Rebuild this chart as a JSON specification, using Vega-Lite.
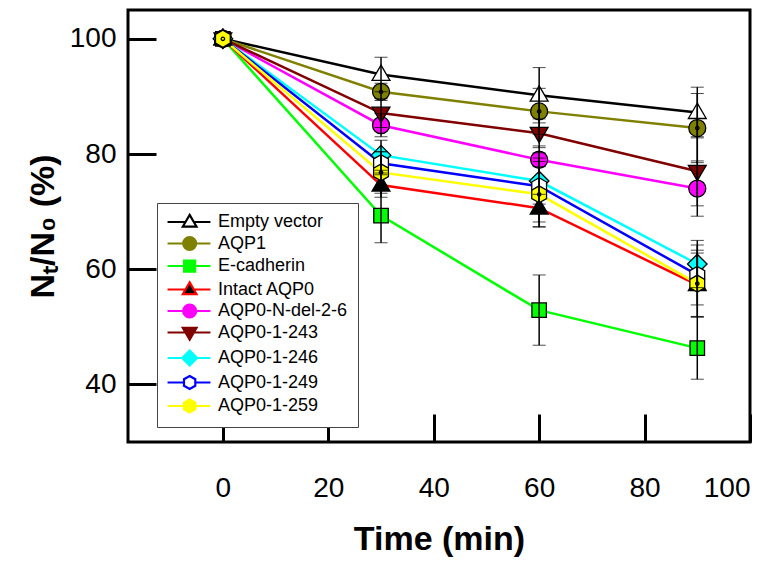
{
  "$schema": "https://vega.github.io/schema/vega-lite/v6.json",
  "autosize": "none",
  "width": 622,
  "height": 432,
  "padding": {"left": 128, "top": 10, "right": 28, "bottom": 120},
  "background": "white",
  "config": {
    "view": {"stroke": "black", "strokeWidth": 3},
    "axis": {
      "domain": false,
      "grid": false,
      "ticks": true,
      "tickColor": "black",
      "tickWidth": 3,
      "tickSize": -28,
      "labelFont": "Liberation Sans",
      "labelFontSize": 28,
      "labelColor": "black",
      "titleFont": "Liberation Sans",
      "titleFontSize": 34,
      "titleFontWeight": "bold",
      "titleColor": "black"
    },
    "legend": {
      "labelFont": "Liberation Sans",
      "labelFontSize": 18,
      "labelColor": "black"
    }
  },
  "data": {
    "values": [
      {"series": "Empty vector", "time": 0, "value": 100, "err": 0},
      {"series": "Empty vector", "time": 30, "value": 93.8, "err": 3.0},
      {"series": "Empty vector", "time": 60, "value": 90.2, "err": 4.8},
      {"series": "Empty vector", "time": 90, "value": 87.2, "err": 4.4},
      {"series": "AQP1", "time": 0, "value": 100, "err": 0},
      {"series": "AQP1", "time": 30, "value": 90.8, "err": 1.5},
      {"series": "AQP1", "time": 60, "value": 87.4, "err": 4.0},
      {"series": "AQP1", "time": 90, "value": 84.5, "err": 6.0},
      {"series": "E-cadherin", "time": 0, "value": 100, "err": 0},
      {"series": "E-cadherin", "time": 30, "value": 69.3, "err": 4.7},
      {"series": "E-cadherin", "time": 60, "value": 52.9, "err": 6.1},
      {"series": "E-cadherin", "time": 90, "value": 46.3, "err": 5.4},
      {"series": "Intact AQP0", "time": 0, "value": 100, "err": 0},
      {"series": "Intact AQP0", "time": 30, "value": 74.6, "err": 2.1},
      {"series": "Intact AQP0", "time": 60, "value": 70.6, "err": 2.4},
      {"series": "Intact AQP0", "time": 90, "value": 57.3, "err": 5.5},
      {"series": "AQP0-N-del-2-6", "time": 0, "value": 100, "err": 0},
      {"series": "AQP0-N-del-2-6", "time": 30, "value": 85.0, "err": 2.0},
      {"series": "AQP0-N-del-2-6", "time": 60, "value": 79.0, "err": 1.2},
      {"series": "AQP0-N-del-2-6", "time": 90, "value": 74.0, "err": 4.8},
      {"series": "AQP0-1-243", "time": 0, "value": 100, "err": 0},
      {"series": "AQP0-1-243", "time": 30, "value": 87.1, "err": 2.5},
      {"series": "AQP0-1-243", "time": 60, "value": 83.6, "err": 2.5},
      {"series": "AQP0-1-243", "time": 90, "value": 77.0, "err": 6.0},
      {"series": "AQP0-1-246", "time": 0, "value": 100, "err": 0},
      {"series": "AQP0-1-246", "time": 30, "value": 79.8, "err": 2.6},
      {"series": "AQP0-1-246", "time": 60, "value": 75.3, "err": 4.0},
      {"series": "AQP0-1-246", "time": 90, "value": 60.9, "err": 4.1},
      {"series": "AQP0-1-249", "time": 0, "value": 100, "err": 0},
      {"series": "AQP0-1-249", "time": 30, "value": 78.4, "err": 2.0},
      {"series": "AQP0-1-249", "time": 60, "value": 74.4, "err": 7.0},
      {"series": "AQP0-1-249", "time": 90, "value": 59.0, "err": 5.2},
      {"series": "AQP0-1-259", "time": 0, "value": 100, "err": 0},
      {"series": "AQP0-1-259", "time": 30, "value": 76.8, "err": 3.6},
      {"series": "AQP0-1-259", "time": 60, "value": 73.0, "err": 5.7},
      {"series": "AQP0-1-259", "time": 90, "value": 57.5, "err": 5.8}
    ]
  },
  "encoding": {
    "x": {
      "field": "time", "type": "quantitative",
      "scale": {"domain": [-18, 100], "nice": false, "zero": false},
      "axis": {"values": [0, 20, 40, 60, 80, 100], "title": "Time (min)", "labelPadding": 60, "titlePadding": 20}
    },
    "y": {
      "field": "value", "type": "quantitative",
      "scale": {"domain": [30, 105], "nice": false, "zero": false},
      "axis": {"values": [40, 60, 80, 100], "title": "Nₜ/N₀ (%)", "labelPadding": 40, "titlePadding": 9}
    }
  },
  "layer": [
    {
      "mark": {"type": "line", "strokeWidth": 2.5},
      "encoding": {
        "stroke": {
          "field": "series", "type": "nominal", "legend": null,
          "scale": {
            "domain": ["Empty vector", "AQP1", "E-cadherin", "Intact AQP0", "AQP0-N-del-2-6", "AQP0-1-243", "AQP0-1-246", "AQP0-1-249", "AQP0-1-259"],
            "range": ["#000000", "#808000", "#00FF00", "#FF0000", "#FF00FF", "#800000", "#00FFFF", "#0000FF", "#FFFF00"]
          }
        },
        "detail": {"field": "series"}
      }
    },
    {
      "mark": {"type": "point", "filled": true, "stroke": "black", "strokeWidth": 1.3, "opacity": 1, "size": 289},
      "encoding": {
        "fill": {
          "field": "series", "type": "nominal", "legend": null,
          "scale": {
            "domain": ["Empty vector", "AQP1", "E-cadherin", "Intact AQP0", "AQP0-N-del-2-6", "AQP0-1-243", "AQP0-1-246", "AQP0-1-249", "AQP0-1-259"],
            "range": ["#FFFFFF", "#808000", "#00FF00", "#000000", "#FF00FF", "#800000", "#00FFFF", "#FFFFFF", "#FFFF00"]
          }
        },
        "shape": {
          "field": "series", "type": "nominal", "legend": null,
          "scale": {
            "domain": ["Empty vector", "AQP1", "E-cadherin", "Intact AQP0", "AQP0-N-del-2-6", "AQP0-1-243", "AQP0-1-246", "AQP0-1-249", "AQP0-1-259"],
            "range": [
              "M0,-1.1L1.05,0.7L-1.05,0.7Z",
              "M1,0A1,1 0 1,1 -1,0A1,1 0 1,1 1,0Z M0.2,0A0.2,0.2 0 1,1 -0.2,0A0.2,0.2 0 1,1 0.2,0Z",
              "M-0.85,-0.85H0.85V0.85H-0.85Z",
              "M0,-1.1L1.05,0.7L-1.05,0.7Z",
              "M1,0A1,1 0 1,1 -1,0A1,1 0 1,1 1,0Z",
              "M0,1.1L1.05,-0.7L-1.05,-0.7Z",
              "M0,-1.15L1.15,0L0,1.15L-1.15,0Z",
              "M0,-1L0.87,-0.5L0.87,0.5L0,1L-0.87,0.5L-0.87,-0.5Z",
              "M0,-1L0.87,-0.5L0.87,0.5L0,1L-0.87,0.5L-0.87,-0.5Z M0.2,0A0.2,0.2 0 1,1 -0.2,0A0.2,0.2 0 1,1 0.2,0Z"
            ]
          }
        }
      }
    },
    {
      "transform": [{"filter": "datum.time < 0"}],
      "mark": {"type": "point", "opacity": 1, "strokeWidth": 2.5},
      "encoding": {
        "stroke": {
          "field": "series", "type": "nominal",
          "scale": {
            "domain": ["Empty vector", "AQP1", "E-cadherin", "Intact AQP0", "AQP0-N-del-2-6", "AQP0-1-243", "AQP0-1-246", "AQP0-1-249", "AQP0-1-259"],
            "range": ["#000000", "#808000", "#00FF00", "#FF0000", "#FF00FF", "#800000", "#00FFFF", "#0000FF", "#FFFF00"]
          },
          "legend": {"title": null, "orient": "none", "legendX": 29, "legendY": 193, "padding": 10, "strokeColor": "#444444", "fillColor": "white", "symbolSize": 169, "symbolStrokeWidth": 2.2, "labelOffset": 33, "rowPadding": 1.5, "symbolOpacity": 1}
        },
        "fill": {
          "field": "series", "type": "nominal",
          "scale": {
            "domain": ["Empty vector", "AQP1", "E-cadherin", "Intact AQP0", "AQP0-N-del-2-6", "AQP0-1-243", "AQP0-1-246", "AQP0-1-249", "AQP0-1-259"],
            "range": ["#FFFFFF", "#808000", "#00FF00", "#000000", "#FF00FF", "#800000", "#00FFFF", "#FFFFFF", "#FFFF00"]
          },
          "legend": {"title": null, "orient": "none", "legendX": 29, "legendY": 193, "padding": 10, "strokeColor": "#444444", "fillColor": "white", "symbolSize": 169, "symbolStrokeWidth": 2.2, "labelOffset": 33, "rowPadding": 1.5, "symbolOpacity": 1}
        },
        "shape": {
          "field": "series", "type": "nominal",
          "scale": {
            "domain": ["Empty vector", "AQP1", "E-cadherin", "Intact AQP0", "AQP0-N-del-2-6", "AQP0-1-243", "AQP0-1-246", "AQP0-1-249", "AQP0-1-259"],
            "range": [
              "M-1.3,0H1.46M2.74,0H5.3 M2.1,-1.1L3.15,0.7L1.05,0.7Z",
              "M-1.3,0H1.1M3.1,0H5.3 M3.1,0A1,1 0 1,1 1.1,0A1,1 0 1,1 3.1,0Z M2.3,0A0.2,0.2 0 1,1 1.9,0A0.2,0.2 0 1,1 2.3,0Z",
              "M-1.3,0H1.25M2.95,0H5.3 M1.25,-0.85H2.95V0.85H1.25Z",
              "M-1.3,0H1.46M2.74,0H5.3 M2.1,-1.1L3.15,0.7L1.05,0.7Z",
              "M-1.3,0H1.1M3.1,0H5.3 M3.1,0A1,1 0 1,1 1.1,0A1,1 0 1,1 3.1,0Z",
              "M-1.3,0H1.46M2.74,0H5.3 M2.1,1.1L3.15,-0.7L1.05,-0.7Z",
              "M-1.3,0H0.95M3.25,0H5.3 M2.1,-1.15L3.25,0L2.1,1.15L0.95,0Z",
              "M-1.3,0H1.23M2.97,0H5.3 M2.1,-1L2.97,-0.5L2.97,0.5L2.1,1L1.23,0.5L1.23,-0.5Z",
              "M-1.3,0H1.23M2.97,0H5.3 M2.1,-1L2.97,-0.5L2.97,0.5L2.1,1L1.23,0.5L1.23,-0.5Z M2.3,0A0.2,0.2 0 1,1 1.9,0A0.2,0.2 0 1,1 2.3,0Z"
            ]
          },
          "legend": {"title": null, "orient": "none", "legendX": 29, "legendY": 193, "padding": 10, "strokeColor": "#444444", "fillColor": "white", "symbolSize": 169, "symbolStrokeWidth": 2.2, "labelOffset": 33, "rowPadding": 1.5, "symbolOpacity": 1}
        }
      }
    },
    {
      "transform": [{"filter": "datum.time > 0"}],
      "mark": {
        "type": "errorbar",
        "color": "black",
        "ticks": {"size": 13, "color": "black", "strokeWidth": 1.5},
        "rule": {"color": "black", "strokeWidth": 1.5}
      },
      "encoding": {
        "yError": {"field": "err"}
      }
    }
  ],
  "resolve": {"scale": {"shape": "independent", "stroke": "independent", "fill": "independent"}}
}
